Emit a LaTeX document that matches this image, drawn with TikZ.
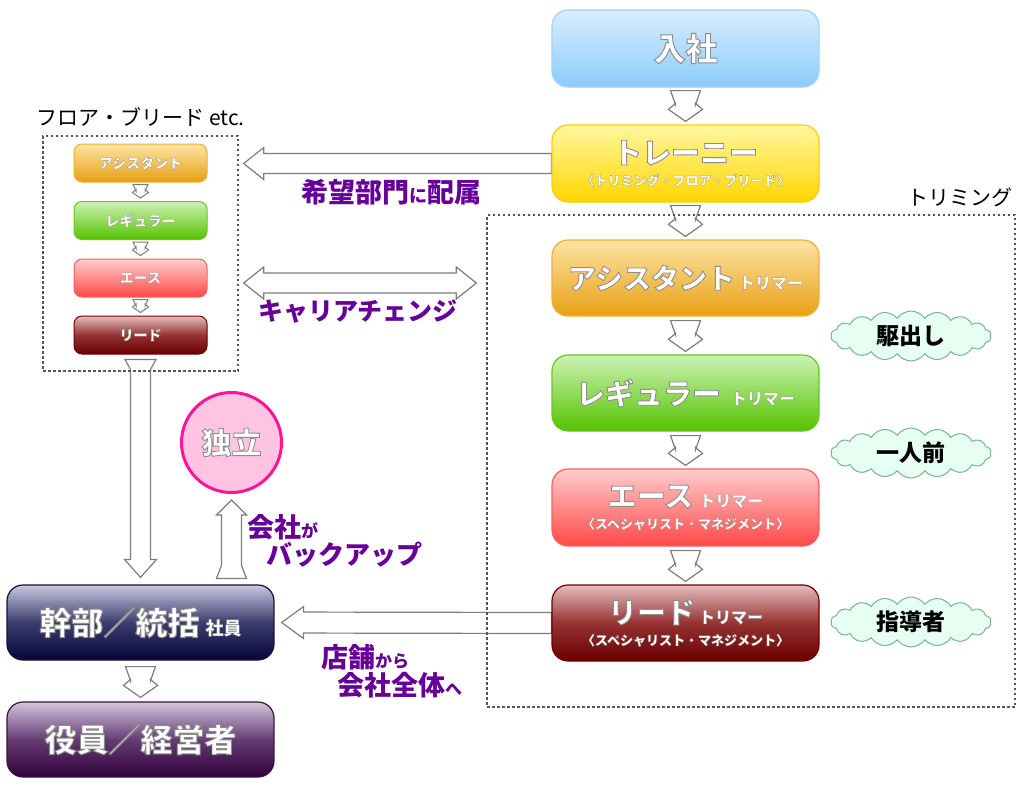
\documentclass[tikz,border=0pt]{standalone}
\usepackage{fontspec}
\setmainfont{Noto Sans CJK JP}
\usetikzlibrary{calc,shapes.symbols}
\pgfdeclarelayer{back}
\pgfdeclarelayer{arrowlayer}
\pgfsetlayers{back,arrowlayer,main}
\definecolor{purp}{RGB}{102,0,153}
\definecolor{arrowgray}{RGB}{125,125,125}
\definecolor{dashgray}{RGB}{85,85,85}
\definecolor{cloudfill}{RGB}{230,255,242}
\definecolor{clouddraw}{RGB}{120,180,150}
\definecolor{blueT}{RGB}{215,238,255}\definecolor{blueB}{RGB}{140,203,252}\definecolor{blueD}{RGB}{165,210,245}
\definecolor{yelT}{RGB}{255,247,160}\definecolor{yelB}{RGB}{255,214,0}\definecolor{yelD}{RGB}{255,205,0}
\definecolor{oraT}{RGB}{253,228,165}\definecolor{oraB}{RGB}{232,160,20}\definecolor{oraD}{RGB}{240,175,50}
\definecolor{grnT}{RGB}{205,242,180}\definecolor{grnB}{RGB}{85,195,0}\definecolor{grnD}{RGB}{100,200,30}
\definecolor{redT}{RGB}{255,205,205}\definecolor{redB}{RGB}{255,72,72}\definecolor{redD}{RGB}{255,95,95}
\definecolor{drkT}{RGB}{228,190,190}\definecolor{drkM}{RGB}{150,50,50}\definecolor{drkB}{RGB}{105,0,0}\definecolor{drkD}{RGB}{115,0,0}
\definecolor{navT}{RGB}{200,200,225}\definecolor{navM}{RGB}{60,60,110}\definecolor{navB}{RGB}{5,5,60}\definecolor{navD}{RGB}{20,20,50}
\definecolor{purT}{RGB}{212,198,222}\definecolor{purM}{RGB}{100,60,115}\definecolor{purB}{RGB}{50,0,60}\definecolor{purD}{RGB}{55,20,60}
\definecolor{pinkF}{RGB}{255,196,228}\definecolor{pinkD}{RGB}{255,20,147}

% single block arrow: from, to, tail half width, tail length, shaft half width, head half width, k1, k2, style
\newcommand\blockarrow[9]{%
  \draw[#9] let \p1=(#1), \p2=(#2), \n1={veclen(\x2-\x1,\y2-\y1)}, \n2={atan2(\y2-\y1,\x2-\x1)} in
   [shift={(\p1)}, rotate=\n2]
   (0pt,#3pt) -- (#4pt,#5pt) -- (\n1-#7pt,#5pt) -- (\n1-#8pt,#6pt) -- (\n1,0pt)
   -- (\n1-#8pt,-#6pt) -- (\n1-#7pt,-#5pt) -- (#4pt,-#5pt) -- (0pt,-#3pt) -- cycle;}
% double block arrow: from, to, shaft half width, head half width, head length, style
\newcommand\dblockarrow[6]{%
  \draw[#6] let \p1=(#1), \p2=(#2), \n1={veclen(\x2-\x1,\y2-\y1)}, \n2={atan2(\y2-\y1,\x2-\x1)} in
   [shift={(\p1)}, rotate=\n2]
   (0pt,0pt) -- (#5pt,#4pt) -- (#5pt,#3pt) -- (\n1-#5pt,#3pt) -- (\n1-#5pt,#4pt) -- (\n1,0pt)
   -- (\n1-#5pt,-#4pt) -- (\n1-#5pt,-#3pt) -- (#5pt,-#3pt) -- (#5pt,-#4pt) -- cycle;}

\newcommand\tsz{\fontsize{29}{22}\selectfont}
\newcommand\ssz{\fontsize{13}{22}\selectfont}
\newcommand\trm{\fontsize{16}{22}\selectfont}
% white text with a thin grey outline
\newcommand\wt[1][3]{\special{pdf:literal direct 0.55 0.55 0.55 RG}\addfontfeature{FakeBold=#1}}

\begin{document}
\begin{tikzpicture}[x=1pt,y=-1pt,
  box/.style={rounded corners=16pt, minimum width=267pt, minimum height=76pt, inner sep=0pt,
    line width=1.2pt, text=white, font=\bfseries\ssz, align=center},
  sbox/.style={rounded corners=8pt, minimum width=133pt, minimum height=38pt, inner sep=0pt,
    line width=1pt, text=white, font=\bfseries\fontsize{14}{16}\selectfont},
  cblue/.style={top color=blueT, bottom color=blueB, draw=blueD},
  cyel/.style={top color=yelT, bottom color=yelB, draw=yelD},
  cora/.style={top color=oraT, bottom color=oraB, draw=oraD},
  cgrn/.style={top color=grnT, bottom color=grnB, draw=grnD},
  cred/.style={top color=redT, bottom color=redB, draw=redD},
  cdrk/.style={top color=drkT, bottom color=drkB, middle color=drkM, draw=drkD},
  cnav/.style={top color=navT, bottom color=navB, middle color=navM, draw=navD},
  cpur/.style={top color=purT, bottom color=purB, middle color=purM, draw=purD},
  blk/.style={draw=arrowgray, fill=white, line width=1.2pt, line join=miter},
  dashbox/.style={draw=dashgray, line width=1.4pt, dash pattern=on 2.5pt off 2.5pt, inner sep=0pt},
  cl/.style={cloud, cloud puffs=18, cloud puff arc=110, aspect=3.3, cloud ignores aspect,
    minimum width=160pt, minimum height=50pt, draw=clouddraw, fill=cloudfill, line width=1pt,
    inner sep=0pt, font=\bfseries\fontsize{23}{26}\selectfont},
  lbl/.style={text=purp, font=\bfseries, inner sep=0pt},
  blabel/.style={text=black, inner sep=0pt, font=\fontsize{21}{24}\selectfont},
]
\begin{pgfonlayer}{back}
\fill[white] (0,0) rectangle (1024,788);
\end{pgfonlayer}
\useasboundingbox (0,0) rectangle (1024,788);

% dashed frames
\node[dashbox, minimum width=528pt, minimum height=492pt] (trim) at (751,461) {};
\node[dashbox, minimum width=195pt, minimum height=235pt] (floor) at (140.5,253.5) {};
\node[blabel] (trimlbl) at (960,197) {トリミング};
\node[blabel] (floorlbl) at (140.5,117) {フロア・ブリード etc.};

% right column
\node[box, cblue, minimum height=77pt] (nyusha) at (685.5,48.5) {{\fontsize{32}{36}\selectfont\wt 入社}};
\node[box, cyel, minimum height=77pt] (trainee) at (685.5,163.5) {{\tsz\wt トレーニー}\\{\ssz\wt[2] 〈トリミング・フロア・ブリード〉}};
\node[box, cora] (asst) at (685.5,278) {{\fontsize{28}{30}\selectfont\wt アシスタント}\hspace{4pt}{\trm\wt[2] トリマー}};
\node[box, cgrn] (reg) at (685.5,393) {{\tsz\wt レギュラー}\hspace{10pt}{\trm\wt[2] トリマー}};
\node[box, cred, minimum height=77pt] (ace) at (685.5,507.5) {{\tsz\wt エース}\hspace{6pt}{\trm\wt[2] トリマー}\\{\ssz\wt[2] 〈スペシャリスト・マネジメント〉}};
\node[box, cdrk] (lead) at (685.5,623) {{\tsz\wt リード}\hspace{4pt}{\trm\wt[2] トリマー}\\{\ssz\wt[2] 〈スペシャリスト・マネジメント〉}};

% left panel
\node[sbox, cora] (lsa) at (140.5,163) {\wt[2]アシスタント};
\node[sbox, cgrn] (lsr) at (140.5,220.5) {\wt[2]レギュラー};
\node[sbox, cred] (lse) at (140.5,278) {\wt[2]エース};
\node[sbox, cdrk] (lsl) at (140.5,335) {\wt[2]リード};

% bottom left
\node[box, cnav, minimum height=75pt] (kanbu) at (140.5,622.5) {{\fontsize{32}{36}\selectfont\wt 幹部／統括}\hspace{6pt}{\fontsize{18}{20}\selectfont\wt[2] 社員}};
\node[box, cpur, minimum height=75pt] (yakuin) at (140.5,739.5) {{\fontsize{32}{36}\selectfont\wt 役員／経営者}};

% independence
\node[circle, minimum size=100pt, fill=pinkF, draw=pinkD, line width=3pt, text=white,
  font=\bfseries\fontsize{30}{32}\selectfont, inner sep=0pt] (dokuritsu) at (231.5,442.5) {\wt 独立};

% clouds
\node[cl] (kakedashi) at (911,336) {駆出し};
\node[cl] (ichinin) at (911,453) {一人前};
\node[cl] (shidou) at (911,622) {指導者};

% purple labels
\node[lbl] (haizoku) at (391,192) {{\fontsize{27}{30}\selectfont 希望部門}{\fontsize{18}{20}\selectfont に}{\fontsize{27}{30}\selectfont 配属}};
\node[lbl, font=\bfseries\fontsize{25}{28}\selectfont] (career) at (358,312) {キャリアチェンジ};
\node[lbl, anchor=west, align=left, font=\bfseries\fontsize{27}{27}\selectfont] (backup) at (247,541)
  {会社{\fontsize{17}{20}\selectfont が}\\\hspace{19pt}{\fontsize{26}{27}\selectfont バックアップ}};
\node[lbl, anchor=west, align=left, font=\bfseries\fontsize{27}{28}\selectfont] (zentai) at (321,671)
  {店舗{\fontsize{17}{20}\selectfont から}\\\hspace{16pt}会社全体{\fontsize{17}{20}\selectfont へ}};

% arrows
\begin{pgfonlayer}{arrowlayer}
\blockarrow{$(nyusha.south)+(0,3)$}{$(trainee.north)+(0,-3)$}{15}{14}{10}{17}{18}{12}{blk}
\blockarrow{$(trainee.south)+(0,3)$}{$(asst.north)+(0,-3)$}{15}{14}{10}{17}{18}{12}{blk}
\blockarrow{$(asst.south)+(0,4)$}{$(reg.north)+(0,-3)$}{15}{14}{10}{17}{18}{12}{blk}
\blockarrow{$(reg.south)+(0,4)$}{$(ace.north)+(0,-3)$}{15}{14}{10}{17}{18}{12}{blk}
\blockarrow{$(ace.south)+(0,4)$}{$(lead.north)+(0,-3)$}{15}{14}{10}{17}{18}{12}{blk}
\blockarrow{$(kanbu.south)+(0,6)$}{$(yakuin.north)+(0,-4)$}{15}{14}{10}{17}{18}{12}{blk}
\blockarrow{$(lsa.south)+(0,2)$}{$(lsr.north)+(0,-3)$}{7.5}{6.5}{4.5}{8}{8.5}{5.5}{blk, line width=1pt}
\blockarrow{$(lsr.south)+(0,2)$}{$(lse.north)+(0,-3)$}{7.5}{6.5}{4.5}{8}{8.5}{5.5}{blk, line width=1pt}
\blockarrow{$(lse.south)+(0,2)$}{$(lsl.north)+(0,-3)$}{7.5}{6.5}{4.5}{8}{8.5}{5.5}{blk, line width=1pt}
\blockarrow{$(lsl.south)+(0,5)$}{$(kanbu.north)+(0,-7)$}{15.5}{10}{10}{16}{18}{18}{blk}
\blockarrow{$(kanbu.north -| dokuritsu.south)+(0,-6)$}{$(dokuritsu.south)+(0,6)$}{15}{13}{10}{15}{15}{15}{blk}
\blockarrow{trainee.west}{$(floor.east |- trainee.west)+(5,0)$}{10}{0}{10}{16}{20}{20}{blk}
\blockarrow{lead.west}{$(kanbu.east)+(7,0)$}{10.5}{0}{10.5}{16}{22}{22}{blk}
\dblockarrow{$(floor.east |- lse.east)+(5,5)$}{$(trim.west |- lse.east)+(-10,5)$}{10}{16}{20}{blk}
\end{pgfonlayer}
\end{tikzpicture}
\end{document}
